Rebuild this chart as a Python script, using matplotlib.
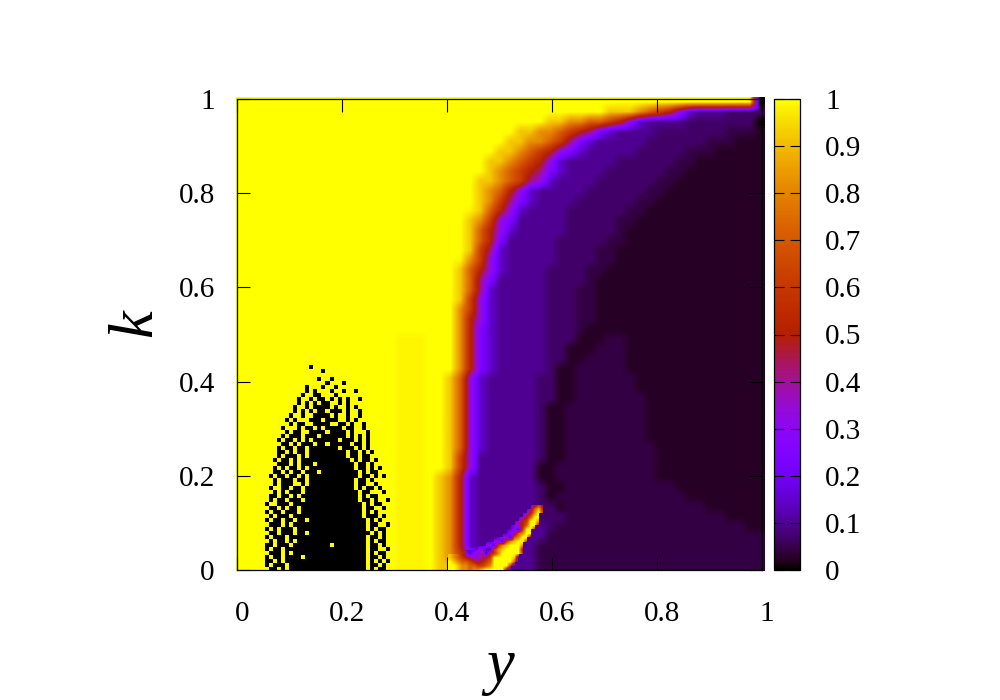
import numpy as np
import matplotlib
matplotlib.use("Agg")
import matplotlib.pyplot as plt
from matplotlib.transforms import ScaledTranslation
from matplotlib.colors import Normalize

plt.rcParams['font.family'] = ['Liberation Serif', 'DejaVu Serif']

# value legend for the hand-read grids
levels = {'_': np.nan, '0': 0.0, 'a': 0.025, 'b': 0.045, 'c': 0.07, 'd': 0.10, 'e': 0.15,
          '2': 0.25, '3': 0.33, '4': 0.42, '5': 0.52, '6': 0.62, '7': 0.72, '8': 0.82,
          '9': 0.92, 'Y': 0.985, 'X': 1.0}

# main field, top row (k=1) first; run-length: symbol then count, 53 columns
field_runs = [
    "X52 01",
    "X37 93 81 71 61 51 31 e1 d3 c7 01",
    "X31 92 82 72 61 51 31 e1 d4 c7 01",
    "X28 92 82 71 61 51 41 21 e1 d4 c7 b3 a1",
    "X27 92 82 71 61 41 21 e1 d5 c6 b3 a3",
    "X26 92 81 71 61 51 31 21 e1 d5 c5 b3 a5",
    "X25 92 81 71 61 51 31 e1 d5 c6 b2 a7",
    "X25 91 81 71 61 51 41 21 e1 d4 c6 b2 a8",
    "X24 92 81 71 61 41 31 e1 d4 c6 b2 a9",
    "X24 91 81 71 51 31 e1 d5 c6 b2 a10",
    "X24 91 81 61 41 21 e1 d4 c6 b2 a11",
    "X23 Y1 91 71 51 31 e1 d4 c6 b2 a12",
    "X23 91 81 61 31 21 d5 c5 b2 a13",
    "X23 91 71 51 31 e1 d5 c5 b1 a14",
    "X23 91 71 51 21 d5 c5 b2 a14",
    "X23 91 61 41 e1 d5 c4 b2 a15",
    "X22 Y1 81 61 31 e1 d5 c4 b2 a15",
    "X22 91 71 51 31 e1 d4 c4 b2 a16",
    "X22 91 71 41 21 d5 c4 b1 a17",
    "X22 91 71 41 e1 d5 c3 b2 a17",
    "X22 91 61 31 e1 d5 c3 b2 a17",
    "X22 81 61 31 e1 d5 c3 b2 a17",
    "X22 81 51 31 e1 d5 c3 b2 a17",
    "X22 81 51 21 e1 d5 c3 b1 a18",
    "X16 Y3 X3 81 51 21 e1 d5 c3 a3 b2 a14",
    "X16 Y3 X3 81 51 21 e1 d5 c2 a3 b3 a14",
    "X16 Y3 X3 81 51 21 e1 d5 c2 a2 b4 a14",
    "X16 Y3 X3 81 51 21 e1 d5 c1 a2 b5 a14",
    "X16 Y3 X2 91 71 31 e1 d5 c2 a2 b6 a13",
    "X16 Y3 X2 91 71 31 e1 d5 c2 a2 b6 a13",
    "X16 Y3 X2 91 71 31 e1 d5 c2 a2 b7 a12",
    "X16 Y3 X2 91 71 31 e1 d5 c1 a2 b8 a12",
    "X16 Y3 X2 91 71 31 e1 d5 c1 a2 b8 a12",
    "X16 Y3 X2 91 71 31 e1 d5 c1 a2 b8 a12",
    "X16 Y3 X2 91 71 31 e1 d5 c1 a2 b8 a12",
    "X16 Y3 X2 91 71 31 e1 d5 c1 a2 b9 a11",
    "X16 Y3 X2 91 61 31 d6 c1 a2 b9 a11",
    "X16 Y3 X2 91 61 31 d6 a2 b10 a11",
    "X16 Y3 X1 91 81 51 e1 d6 a2 b10 a11",
    "X16 Y3 X1 91 81 51 e1 d6 c1 a2 b11 a9",
    "X16 Y3 X1 91 81 51 e1 d6 c1 a1 b13 a8",
    "X16 Y3 X1 91 81 51 e1 d6 c2 a1 b14 a6",
    "X16 Y3 X1 91 81 51 e1 d6 c3 b16 a4",
    "X16 Y3 X1 91 81 51 e1 d7 c1 b19 a2",
    "X16 Y3 X1 91 81 51 e1 d7 b22",
    "X16 Y3 X1 91 81 51 e1 d6 b23",
    "X16 Y3 X1 91 81 61 51 d6 b23",
    "X16 Y3 X1 91 91 71 61 d6 b23",
]

# black patch near y=0.15, top row first ('#' black cell, '.' yellow cell)
patch_rows = [
    "................................",
    "............#...................",
    "...............#................",
    "................................",
    "..............#..#..............",
    "................#...#...........",
    "...........#...#..#.............",
    "...........#.#...#..#..#........",
    "..........#..##...#.............",
    ".........#..#.##.#.#.#..#.......",
    ".........#.#.#.##..#.#..........",
    "........#..#.####.#..#.#........",
    "........#.#.#.##.###.#..#.......",
    ".......#..#..####.#..#..#.......",
    "......#.#...###.###..#.#........",
    ".......#.##..####..##.#..#......",
    ".....#...#.##.#.####.##..#......",
    "......#.##..####.####.#...#.....",
    ".....#.###.###.######.#.#.#.....",
    "....#.##.#.#.######.###.#.#.....",
    ".....##.#.###.##.#####.##.#.....",
    "....#.##.##.#######.###.#.#.....",
    "....##.#.##.#########.##.#.#....",
    "....#.###.#.#########.##.##.....",
    "...#.##.#.############.#.##.#...",
    "....###.#.###.#########.##.#....",
    "...#.#.##.#.###########.##.#.#..",
    "...##.#.##.###.#########.#.##...",
    "..#.##.##.#.############.##.#.#.",
    "...#.###.##.###########.##.#....",
    "...#.###..#.###########.##..#...",
    "..#..##.##.############.#.##.#..",
    "...#.#.###.#############.##...#.",
    "..##.##.#.##############.#.##...",
    "..#.##.###.#############.##.#..#",
    ".#..###.#################.#.##..",
    "..##.#.##.###############.##..#.",
    ".#.##.###.###############.#.#...",
    "..#.###.#################.###.#.",
    ".#.##.##.##.##############.#.#..",
    "..###.#.##################.##..#",
    ".#.#.###.#################.#.##.",
    "..##.###.##.###############.#.#.",
    ".#.###.###################.##.#..",
    "..#.##.#.#################.#.##.#",
    ".##.###.#########.########.##.#.",
    ".#.##.####################.##..#.",
    "..###.#.##################.#.##.",
    ".#.##.####.###############.##.#.",
    ".##.#.####################.#.#.#",
    ".#.###.###################.##.#.",
    "..##.#.###################.#.##.",
]

# crescent near y=0.5, k=0.07, top row first; '_' leaves the main field showing
crescent_rows = [
    "_________________________",
    "____________________d464_",
    "___________________d4795_",
    "__________________d358X6_",
    "_________________d357XX__",
    "________________d356XX8__",
    "_______________d2457XX5__",
    "______________de3d6XX6___",
    "_____________de3378XX____",
    "___________de33d78XX4____",
    "_________de33d689XX6_____",
    "_______de33d689XXX8______",
    "____dee33dc689XXXX4______",
    "98753e334d568XXXXX6______",
    "98765433456XXXXX9c_______",
    "X9877654567XXXXX7b_______",
    "XX988776678XXXX6b________",
    "XX9887889XXXXX4b_________",
]

x_ticks = [0, 0.2, 0.4, 0.6, 0.8, 1]
x_labels = ['0', '0.2', '0.4', '0.6', '0.8', '1']
y_ticks = [0, 0.2, 0.4, 0.6, 0.8, 1]
y_labels = ['0', '0.2', '0.4', '0.6', '0.8', '1']
bar_ticks = [0, 0.1, 0.2, 0.3, 0.4, 0.5, 0.6, 0.7, 0.8, 0.9, 1]
bar_labels = ['0', '0.1', '0.2', '0.3', '0.4', '0.5', '0.6', '0.7', '0.8', '0.9', '1']


def decode_runs(runs, width):
    out = []
    for row in runs:
        cells = []
        for tok in row.split():
            cells += [levels[tok[0]]] * int(tok[1:])
        cells = (cells + [levels['a']] * width)[:width]
        out.append(cells)
    return np.array(out)


field = decode_runs(field_runs, 53)
patch = np.array([[0.0 if ch == '#' else 1.0 for ch in r.ljust(32, '.')[:32]] for r in patch_rows])
crescent = np.array([[levels[ch] for ch in r] for r in crescent_rows])

W, H = 1000, 700
fig = plt.figure(figsize=(10, 7), dpi=100)
L, R, T, B = 237, 762, 99, 570
ax = fig.add_axes([L / W, 1 - B / H, (R - L) / W, (B - T) / H])
norm = Normalize(0, 1)
cmap = plt.get_cmap('gnuplot')

ax.imshow(field, extent=(-0.002, 1.004, -0.002, 1.004), origin='upper', aspect='auto',
          cmap=cmap, norm=norm, interpolation='bilinear', clip_on=False, zorder=1)
ax.imshow(patch, extent=(0.046, 0.29, -0.002, 0.442), origin='upper', aspect='auto',
          cmap=cmap, norm=norm, interpolation='nearest', zorder=2)
ax.imshow(crescent, extent=(0.402, 0.594, -0.004, 0.149), origin='upper', aspect='auto',
          cmap=cmap, norm=norm, interpolation='bilinear', zorder=3)
ax.set_xlim(0, 1)
ax.set_ylim(0, 1)

ax.set_xticks(x_ticks, x_labels)
ax.set_yticks(y_ticks, y_labels)
ax.tick_params(axis='both', direction='in', length=9.4, width=0.8, top=True, right=True,
               labelsize=21, color='black')
ax.tick_params(axis='x', pad=22)
ax.tick_params(axis='y', pad=16)
shift = ScaledTranslation(5 / 100, 0, fig.dpi_scale_trans)
for lab in ax.get_xticklabels():
    lab.set_transform(lab.get_transform() + shift)
for s in ax.spines.values():
    s.set_linewidth(0.9)

cax = fig.add_axes([774 / W, 1 - 570 / H, 26 / W, 471 / H])
sm = plt.cm.ScalarMappable(norm=norm, cmap=cmap)
cb = fig.colorbar(sm, cax=cax, ticks=bar_ticks)
cb.set_ticklabels(bar_labels)
cax.tick_params(axis='y', which='both', direction='in', length=7.2, width=0.8,
                left=True, right=True, labelsize=21, pad=18)
cb.outline.set_linewidth(0.9)

fig.text(136 / W, 1 - 323 / H, 'k', rotation=90, style='italic', fontsize=45,
         ha='center', va='center')
fig.text(500 / W, 1 - 667 / H, 'y', style='italic', fontsize=45, ha='center', va='center')

fig.savefig('out.png', dpi=100)
